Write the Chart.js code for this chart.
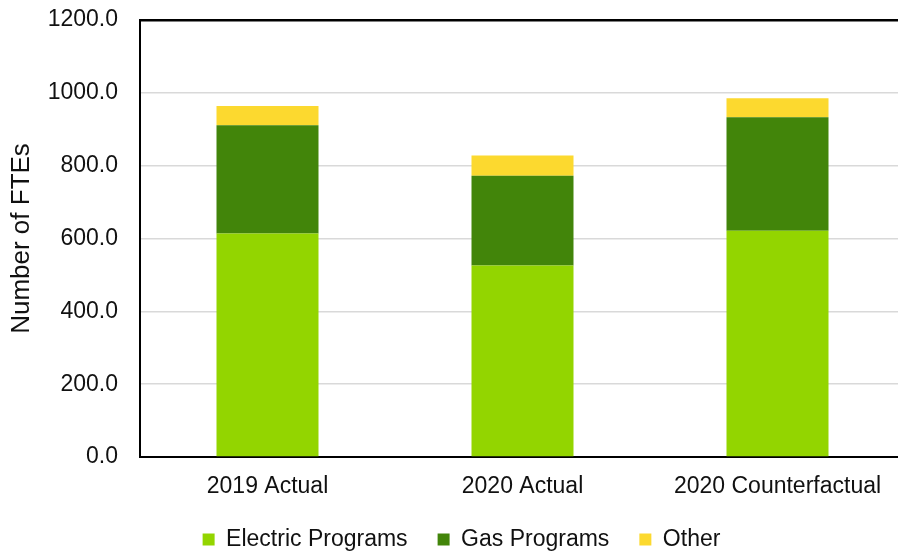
<!DOCTYPE html>
<html>
<head>
<meta charset="utf-8">
<script src="https://cdn.jsdelivr.net/npm/chart.js@4.4.1/dist/chart.umd.min.js"></script>
<style>
  html, body { margin: 0; padding: 0; background: #fff; overflow: hidden; }
  #wrap { width: 924px; height: 556px; }
</style>
</head>
<body>
<div id="wrap"><canvas id="grafico"></canvas></div>
<script>
const categorias = ['2019 Actual', '2020 Actual', '2020 Counterfactual'];
const electric = [614, 526, 621];
const gas = [297, 246, 312];
const other = [53, 56, 52];
const yMax = 1200;
const yStep = 200;

Chart.defaults.font.family = '"Liberation Sans", Arial, sans-serif';
Chart.defaults.font.size = 23;
Chart.defaults.color = '#111';

const ctx = document.getElementById('grafico').getContext('2d');
new Chart(ctx, {
  type: 'bar',
  data: {
    labels: categorias,
    datasets: [
      { label: 'Electric Programs', data: electric, backgroundColor: '#93d500' },
      { label: 'Gas Programs', data: gas, backgroundColor: '#42850a' },
      { label: 'Other', data: other, backgroundColor: '#fcd92f' }
    ]
  },
  options: {
    responsive: true,
    maintainAspectRatio: false,
    animation: false,
    layout: { padding: { top: 20, right: 19, bottom: -5, left: 18 } },
    datasets: { bar: { barPercentage: 1, categoryPercentage: 0.4 } },
    plugins: {
      tooltip: { enabled: false },
      legend: {
        position: 'bottom',
        labels: { boxWidth: 12, boxHeight: 12, padding: 30, color: '#111' }
      }
    },
    scales: {
      x: {
        stacked: true,
        grid: { display: false, drawTicks: true, tickLength: 16, tickColor: 'transparent' },
        border: { color: '#000', width: 2 },
        ticks: { padding: 0, color: '#111' },
        afterFit: s => { s.height = 41; }
      },
      y: {
        stacked: true,
        min: 0,
        max: yMax,
        ticks: {
          stepSize: yStep,
          padding: 0,
          color: '#111',
          callback: v => v.toFixed(1)
        },
        grid: {
          drawTicks: true,
          tickLength: 22,
          tickColor: 'transparent',
          color: c => c.tick && c.tick.value === yMax ? '#000' : '#d9d9d9',
          lineWidth: c => c.tick && c.tick.value === yMax ? 2.5 : 1.5
        },
        border: { color: '#000', width: 2 },
        title: {
          display: true,
          text: 'Number of FTEs',
          color: '#111',
          font: { size: 26 },
          padding: { top: -12, bottom: 0 }
        },
        afterFit: s => { s.width = 122; }
      }
    }
  }
});
</script>
</body>
</html>
